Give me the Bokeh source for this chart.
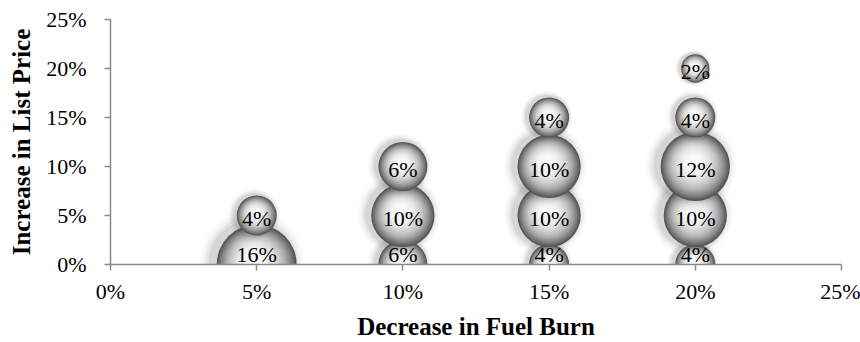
import numpy as np
from bokeh.plotting import figure
from bokeh.models import ColumnDataSource, FixedTicker
from bokeh.core.properties import value
from bokeh.embed import file_html
from bokeh.resources import INLINE

# ---- data (percent) ----
fuel_burn_decrease = [5, 5, 10, 10, 10, 15, 15, 15, 15, 20, 20, 20, 20, 20]
list_price_increase = [0, 5, 0, 5, 10, 0, 5, 10, 15, 0, 5, 10, 15, 20]
share = [16, 4, 6, 10, 6, 4, 10, 10, 4, 4, 10, 12, 4, 2]
share_labels = ["16%", "4%", "6%", "10%", "6%", "4%", "10%", "10%", "4%",
                "4%", "10%", "12%", "4%", "2%"]
axis_ticks = [0, 5, 10, 15, 20, 25]
axis_tick_labels = ["0%", "5%", "10%", "15%", "20%", "25%"]

FONT = "Liberation Serif"
AXIS_COLOR = "#8a8a8a"

W, H = 860, 342
ML, MR, MT, MB = 110, 19, 19, 76
frame_w, frame_h = W - ML - MR, H - MT - MB
px_x = frame_w / 25.0   # screen px per data unit
px_y = frame_h / 25.0

p = figure(width=W, height=H, x_range=(0, 25), y_range=(0, 25),
           output_backend="svg", toolbar_location=None,
           min_border_left=ML, min_border_right=MR,
           min_border_top=MT, min_border_bottom=MB)
p.outline_line_color = None
p.xgrid.visible = False
p.ygrid.visible = False
p.background_fill_color = "white"
p.border_fill_color = "white"

# ---- bubble drawing rows: soft shadow then shaded sphere, bubble by bubble ----
shadow_layers = [(1.30, 0.035), (1.22, 0.05), (1.15, 0.07), (1.08, 0.09)]
N = 28
rows = dict(x=[], y=[], size=[], color=[], alpha=[])


def grey(b):
    b = int(max(0, min(255, round(b))))
    return "#%02x%02x%02x" % (b, b, b)


for xv, yv, s in zip(fuel_burn_decrease, list_price_increase, share):
    r = 10.0 * np.sqrt(s)
    for f, a in shadow_layers:
        rows["x"].append(xv - 0.12 * r / px_x)
        rows["y"].append(yv + 0.04 * r / px_y)
        rows["size"].append(2 * r * f)
        rows["color"].append("#4a4a4a")
        rows["alpha"].append(a)
    for i in range(N):
        t = 1.0 - i / N            # 1 at rim -> small at centre
        b = 250 - 165 * t ** 2.6
        rows["x"].append(xv - 0.08 * (1 - t) * r / px_x)
        rows["y"].append(yv + 0.16 * (1 - t) * r / px_y)
        rows["size"].append(2 * r * t)
        rows["color"].append(grey(b))
        rows["alpha"].append(1.0)

src = ColumnDataSource(rows)
p.scatter("x", "y", size="size", fill_color="color", fill_alpha="alpha",
          line_color=None, marker="circle", source=src)

# ---- data labels ----
lab = ColumnDataSource(dict(
    x=fuel_burn_decrease, y=list_price_increase, t=share_labels,
    yoff=[-10 if v == 0 else 3 for v in list_price_increase],
))
p.text("x", "y", text="t", source=lab, text_align="center",
       text_baseline="middle", y_offset="yoff",
       text_font=value(FONT), text_font_size="22px", text_color="black")

# ---- axes ----
for ax in (p.xaxis[0], p.yaxis[0]):
    ax.ticker = FixedTicker(ticks=axis_ticks)
    ax.major_label_overrides = {t: l for t, l in zip(axis_ticks, axis_tick_labels)}
    ax.axis_line_color = AXIS_COLOR
    ax.axis_line_width = 1.5
    ax.major_tick_line_color = AXIS_COLOR
    ax.major_tick_line_width = 1.5
    ax.major_tick_out = 6
    ax.major_tick_in = 0
    ax.minor_tick_line_color = None
    ax.major_label_text_font = FONT
    ax.major_label_text_font_size = "22px"
    ax.major_label_text_color = "black"
    ax.axis_label_text_font = FONT
    ax.axis_label_text_font_size = "25px"
    ax.axis_label_text_font_style = "bold"
    ax.axis_label_text_color = "black"

p.xaxis.axis_label = "Decrease in Fuel Burn"
p.yaxis.axis_label = "Increase in List Price"
p.xaxis.major_label_standoff = 8
p.xaxis.axis_label_standoff = 6
p.yaxis.major_label_standoff = 18
p.yaxis.axis_label_standoff = 8

open("out.html", "w").write(file_html(p, INLINE))
